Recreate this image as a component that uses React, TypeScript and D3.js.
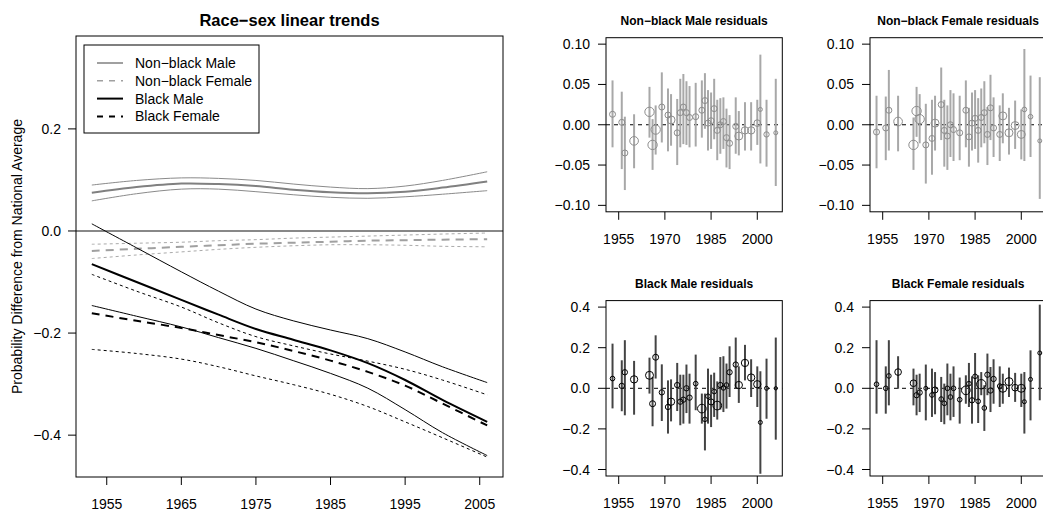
import React from "react";
import * as d3 from "d3";

// ---------- Main panel data (smoothed trends) ----------
const trendYears = [1953, 1959, 1965, 1970, 1975, 1980, 1985, 1990, 1995, 2000, 2006];

const nbMaleMean = [0.075, 0.086, 0.093, 0.092, 0.088, 0.081, 0.076, 0.074, 0.077, 0.085, 0.097];
const nbMaleHi = [0.090, 0.099, 0.104, 0.103, 0.099, 0.092, 0.086, 0.083, 0.088, 0.099, 0.116];
const nbMaleLo = [0.059, 0.073, 0.082, 0.082, 0.077, 0.071, 0.066, 0.064, 0.067, 0.072, 0.079];

const nbFemaleMean = [-0.039, -0.035, -0.031, -0.028, -0.025, -0.023, -0.021, -0.019, -0.018, -0.017, -0.016];
const nbFemaleHi = [-0.026, -0.024, -0.022, -0.019, -0.017, -0.014, -0.012, -0.010, -0.008, -0.006, -0.004];
const nbFemaleLo = [-0.054, -0.047, -0.041, -0.036, -0.032, -0.029, -0.027, -0.027, -0.028, -0.030, -0.031];

const bMaleMean = [-0.065, -0.100, -0.135, -0.164, -0.192, -0.213, -0.234, -0.259, -0.292, -0.331, -0.374];
const bMaleHi = [0.014, -0.033, -0.080, -0.118, -0.153, -0.176, -0.194, -0.211, -0.237, -0.266, -0.297];
const bMaleLo = [-0.146, -0.167, -0.188, -0.209, -0.230, -0.254, -0.279, -0.308, -0.350, -0.395, -0.440];

const bFemaleMean = [-0.161, -0.176, -0.190, -0.204, -0.218, -0.235, -0.254, -0.276, -0.303, -0.338, -0.381];
const bFemaleHi = [-0.085, -0.118, -0.149, -0.180, -0.207, -0.225, -0.241, -0.255, -0.271, -0.292, -0.321];
const bFemaleLo = [-0.232, -0.240, -0.251, -0.266, -0.284, -0.301, -0.320, -0.344, -0.374, -0.405, -0.443];

const mainXTicks = [1955, 1965, 1975, 1985, 1995, 2005];
const mainYTicks = [0.2, 0.0, -0.2, -0.4];
const legendLabels = ["Non\u2212black Male", "Non\u2212black Female", "Black Male", "Black Female"];

// ---------- Residual panels data ----------
const resYears = [1953, 1956, 1957, 1960, 1965, 1966, 1967, 1969, 1971, 1972, 1974, 1975, 1976, 1977, 1978, 1980, 1982, 1983, 1984, 1985, 1986, 1987, 1988, 1989, 1990, 1991, 1993, 1994, 1996, 1998, 2000, 2001, 2003, 2006];

const nbmEst = [0.013, 0.003, -0.035, -0.020, 0.016, -0.025, -0.006, 0.022, 0.012, 0.006, -0.010, 0.015, 0.022, 0.015, 0.009, 0.010, 0.018, 0.030, 0.002, 0.005, 0.020, -0.007, 0.000, 0.004, -0.016, -0.023, -0.002, -0.014, -0.007, -0.007, 0.002, 0.019, -0.012, -0.010];
const nbmHi = [0.055, 0.041, 0.010, 0.013, 0.047, 0.007, 0.024, 0.065, 0.045, 0.038, 0.032, 0.057, 0.063, 0.054, 0.048, 0.052, 0.055, 0.064, 0.043, 0.040, 0.057, 0.031, 0.033, 0.034, 0.020, 0.012, 0.034, 0.017, 0.028, 0.028, 0.031, 0.087, 0.031, 0.057];
const nbmLo = [-0.028, -0.055, -0.081, -0.054, -0.016, -0.056, -0.037, -0.022, -0.033, -0.026, -0.050, -0.028, -0.024, -0.025, -0.028, -0.027, -0.016, -0.005, -0.032, -0.030, -0.018, -0.044, -0.036, -0.030, -0.053, -0.055, -0.036, -0.038, -0.032, -0.032, -0.025, -0.048, -0.052, -0.076];
const nbmWt = [9, 9, 9, 13, 14, 14, 14, 9, 9, 12, 9, 9, 9, 9, 9, 9, 9, 9, 9, 9, 9, 9, 9, 9, 9, 9, 9, 12, 11, 11, 10, 6, 8, 6];

const nbfEst = [-0.009, -0.004, 0.018, 0.004, -0.025, 0.017, 0.007, -0.025, -0.017, 0.002, 0.025, -0.007, -0.014, 0.000, -0.006, -0.010, 0.018, -0.015, 0.002, 0.008, -0.007, 0.009, 0.015, -0.012, 0.021, -0.004, -0.012, 0.011, -0.010, -0.001, -0.012, 0.019, 0.010, -0.020];
const nbfHi = [0.036, 0.035, 0.068, 0.036, 0.009, 0.047, 0.038, 0.026, 0.031, 0.036, 0.071, 0.031, 0.024, 0.043, 0.039, 0.036, 0.055, 0.021, 0.040, 0.043, 0.033, 0.045, 0.054, 0.022, 0.062, 0.034, 0.024, 0.039, 0.021, 0.030, 0.019, 0.094, 0.061, 0.059];
const nbfLo = [-0.054, -0.044, -0.032, -0.033, -0.056, -0.015, -0.023, -0.073, -0.062, -0.032, -0.019, -0.052, -0.056, -0.040, -0.045, -0.044, -0.028, -0.052, -0.032, -0.030, -0.047, -0.028, -0.023, -0.050, -0.019, -0.040, -0.045, -0.023, -0.037, -0.030, -0.043, -0.045, -0.040, -0.092];
const nbfWt = [9, 9, 9, 13, 14, 14, 14, 9, 9, 12, 9, 9, 9, 9, 9, 9, 9, 9, 9, 9, 9, 9, 9, 9, 9, 9, 9, 12, 12, 12, 12, 7, 7, 6];

const bmEst = [0.048, 0.012, 0.079, 0.044, 0.064, -0.076, 0.153, -0.020, -0.092, -0.066, 0.016, -0.066, -0.056, 0.000, -0.046, 0.023, -0.100, -0.153, -0.039, -0.067, -0.016, -0.085, 0.016, 0.002, 0.016, 0.079, 0.117, 0.016, 0.125, 0.053, 0.020, -0.168, 0.000, 0.000];
const bmHi = [0.220, 0.138, 0.237, 0.135, 0.151, 0.056, 0.261, 0.118, 0.039, 0.044, 0.125, 0.067, 0.067, 0.117, 0.072, 0.166, -0.026, -0.026, 0.097, 0.067, 0.077, 0.034, 0.154, 0.158, 0.122, 0.207, 0.250, 0.108, 0.214, 0.143, 0.108, 0.084, 0.146, 0.250];
const bmLo = [-0.099, -0.113, -0.133, -0.130, -0.026, -0.187, 0.048, -0.161, -0.223, -0.163, -0.112, -0.182, -0.174, -0.122, -0.174, -0.108, -0.174, -0.306, -0.174, -0.191, -0.141, -0.154, -0.105, -0.117, -0.100, -0.043, -0.002, -0.072, 0.039, -0.043, -0.092, -0.421, -0.150, -0.253];
const bmWt = [7, 8, 8, 11, 12, 9, 9, 8, 8, 11, 8, 8, 8, 8, 8, 7, 13, 7, 7, 9, 7, 13, 8, 7, 7, 8, 8, 11, 11, 11, 11, 6, 6, 5];

const bfEst = [0.020, 0.000, 0.061, 0.080, 0.025, -0.034, -0.021, 0.000, -0.033, -0.008, -0.053, -0.074, 0.000, -0.043, 0.000, -0.056, -0.010, 0.023, -0.059, 0.059, -0.064, 0.020, -0.097, 0.067, -0.011, 0.046, 0.011, 0.000, 0.033, 0.003, 0.000, -0.066, 0.044, 0.174];
const bfHi = [0.237, 0.108, 0.237, 0.158, 0.097, 0.067, 0.072, 0.117, 0.097, 0.080, 0.056, 0.023, 0.122, 0.072, 0.108, 0.053, 0.064, 0.125, 0.059, 0.174, 0.064, 0.080, 0.015, 0.171, 0.105, 0.143, 0.108, 0.072, 0.102, 0.076, 0.072, 0.080, 0.187, 0.412];
const bfLo = [-0.125, -0.125, -0.084, -0.002, -0.084, -0.133, -0.117, -0.158, -0.141, -0.128, -0.166, -0.177, -0.133, -0.158, -0.141, -0.174, -0.076, -0.092, -0.174, -0.059, -0.171, -0.034, -0.210, -0.034, -0.117, -0.076, -0.092, -0.076, -0.043, -0.067, -0.092, -0.223, -0.158, -0.059];
const bfWt = [7, 7, 7, 10, 10, 8, 8, 6, 7, 9, 7, 7, 7, 7, 7, 7, 13, 7, 8, 7, 7, 14, 7, 8, 8, 8, 7, 12, 12, 10, 12, 6, 6, 6];

const resXTicks = [1955, 1970, 1985, 2000];
const smallYTicks = [0.10, 0.05, 0.0, -0.05, -0.10];
const bigYTicks = [0.4, 0.2, 0.0, -0.2, -0.4];

const FONT = "'Liberation Sans', Arial, Helvetica, sans-serif";
const fmt = (v: number, d: number) => {
  const s = Math.abs(v).toFixed(d);
  return v < -1e-9 ? "\u2212" + s : s;
};

type ResProps = {
  title: string;
  left: number;
  top: number;
  width: number;
  height: number;
  ylim: number;
  yTicks: number[];
  dec: number;
  est: number[];
  hi: number[];
  lo: number[];
  wt: number[];
  barColor: string;
  ptColor: string;
};

function ResidualPanel(p: ResProps) {
  const x = d3.scaleLinear().domain([1950.88, 2008.12]).range([p.left, p.left + p.width]);
  const y = d3.scaleLinear().domain([-p.ylim * 1.08, p.ylim * 1.08]).range([p.top + p.height, p.top]);
  const r = d3.scaleLinear().domain([0, 3]).range([0, 1]);
  const bottom = p.top + p.height;
  return (
    <g>
      <text x={p.left + p.width / 2} y={p.top - 13} textAnchor="middle" fontWeight="bold" fontSize={12} fontFamily={FONT}>
        {p.title}
      </text>
      <line x1={p.left} x2={p.left + p.width} y1={y(0)} y2={y(0)} stroke="#000" strokeWidth={1} strokeDasharray="4,4" />
      {resYears.map((yr, i) => (
        <line key={"b" + i} x1={x(yr)} x2={x(yr)} y1={y(p.hi[i])} y2={y(p.lo[i])} stroke={p.barColor} strokeWidth={2} />
      ))}
      {resYears.map((yr, i) => (
        <circle key={"c" + i} cx={x(yr)} cy={y(p.est[i])} r={r(p.wt[i])} fill="none" stroke={p.ptColor} strokeWidth={1} />
      ))}
      <rect x={p.left} y={p.top} width={p.width} height={p.height} fill="none" stroke="#000" strokeWidth={1} />
      {resXTicks.map((t) => (
        <g key={"xt" + t}>
          <line x1={x(t)} x2={x(t)} y1={bottom} y2={bottom + 8} stroke="#000" />
          <text x={x(t)} y={bottom + 32} textAnchor="middle" fontSize={14} fontFamily={FONT}>{t}</text>
        </g>
      ))}
      {p.yTicks.map((t) => (
        <g key={"yt" + t}>
          <line x1={p.left - 8} x2={p.left} y1={y(t)} y2={y(t)} stroke="#000" />
          <text x={p.left - 16} y={y(t) + 5} textAnchor="end" fontSize={14} fontFamily={FONT}>{fmt(t, p.dec)}</text>
        </g>
      ))}
    </g>
  );
}

export default function App() {
  const L = 76, R = 503, T = 36, B = 477;
  const x = d3.scaleLinear().domain([1950.88, 2008.12]).range([L, R]);
  const y = d3.scaleLinear().domain([-0.482, 0.382]).range([B, T]);
  const line = d3
    .line<number>()
    .x((_, i) => x(trendYears[i]))
    .y((d) => y(d))
    .curve(d3.curveCatmullRom.alpha(0.5));

  const series = [
    { d: nbMaleHi, stroke: "#8a8a8a", w: 1, dash: undefined },
    { d: nbMaleLo, stroke: "#8a8a8a", w: 1, dash: undefined },
    { d: nbMaleMean, stroke: "#808080", w: 2, dash: undefined },
    { d: nbFemaleHi, stroke: "#aaaaaa", w: 1, dash: "3,3" },
    { d: nbFemaleLo, stroke: "#aaaaaa", w: 1, dash: "3,3" },
    { d: nbFemaleMean, stroke: "#a0a0a0", w: 2, dash: "8,6" },
    { d: bMaleHi, stroke: "#000", w: 1, dash: undefined },
    { d: bMaleLo, stroke: "#000", w: 1, dash: undefined },
    { d: bMaleMean, stroke: "#000", w: 2, dash: undefined },
    { d: bFemaleHi, stroke: "#000", w: 1, dash: "3,3" },
    { d: bFemaleLo, stroke: "#000", w: 1, dash: "3,3" },
    { d: bFemaleMean, stroke: "#000", w: 2, dash: "8,6" },
  ];
  const legendStyles = [
    { stroke: "#808080", w: 1.5, dash: undefined },
    { stroke: "#a0a0a0", w: 1.5, dash: "6,6" },
    { stroke: "#000", w: 2, dash: undefined },
    { stroke: "#000", w: 2, dash: "6,6" },
  ];

  return (
    <svg width={1043} height={514} style={{ position: "absolute", left: 0, top: 0, background: "#fff" }}>
      <rect x={0} y={0} width={1043} height={514} fill="#fff" />
      {/* Main panel */}
      <text x={(L + R) / 2} y={26} textAnchor="middle" fontWeight="bold" fontSize={16.5} fontFamily={FONT}>
        Race{"\u2212"}sex linear trends
      </text>
      <line x1={L} x2={R} y1={y(0)} y2={y(0)} stroke="#888" strokeWidth={2} />
      {series.map((s, i) => (
        <path key={i} d={line(s.d) || ""} fill="none" stroke={s.stroke} strokeWidth={s.w} strokeDasharray={s.dash} />
      ))}
      <rect x={L} y={T} width={R - L} height={B - T} fill="none" stroke="#000" strokeWidth={1} />
      {mainXTicks.map((t) => (
        <g key={"mx" + t}>
          <line x1={x(t)} x2={x(t)} y1={B} y2={B + 8} stroke="#000" />
          <text x={x(t)} y={B + 32} textAnchor="middle" fontSize={14} fontFamily={FONT}>{t}</text>
        </g>
      ))}
      {mainYTicks.map((t) => (
        <g key={"my" + t}>
          <line x1={L - 8} x2={L} y1={y(t)} y2={y(t)} stroke="#000" />
          <text x={L - 15} y={y(t) + 5} textAnchor="end" fontSize={14} fontFamily={FONT}>{fmt(t, 1)}</text>
        </g>
      ))}
      <text transform={`translate(22,${(T + B) / 2}) rotate(-90)`} textAnchor="middle" fontSize={14} fontFamily={FONT}>
        Probability Difference from National Average
      </text>
      {/* Legend */}
      <rect x={84} y={45} width={175} height={88} fill="#fff" stroke="#000" strokeWidth={1} />
      {legendLabels.map((lab, i) => {
        const ly = 63 + i * 17.8;
        const st = legendStyles[i];
        return (
          <g key={lab}>
            <line x1={97} x2={123} y1={ly} y2={ly} stroke={st.stroke} strokeWidth={st.w} strokeDasharray={st.dash} />
            <text x={135} y={ly + 5} fontSize={14} fontFamily={FONT}>{lab}</text>
          </g>
        );
      })}

      <ResidualPanel title={"Non\u2212black Male residuals"} left={606} top={37.7} width={176.3} height={174.1} ylim={0.1} yTicks={smallYTicks} dec={2}
        est={nbmEst} hi={nbmHi} lo={nbmLo} wt={nbmWt} barColor="#a8a8a8" ptColor="#8c8c8c" />
      <ResidualPanel title={"Non\u2212black Female residuals"} left={870} top={37.7} width={176.3} height={174.1} ylim={0.1} yTicks={smallYTicks} dec={2}
        est={nbfEst} hi={nbfHi} lo={nbfLo} wt={nbfWt} barColor="#a8a8a8" ptColor="#8c8c8c" />
      <ResidualPanel title="Black Male residuals" left={606} top={300.6} width={176.3} height={175.4} ylim={0.4} yTicks={bigYTicks} dec={1}
        est={bmEst} hi={bmHi} lo={bmLo} wt={bmWt} barColor="#444" ptColor="#000" />
      <ResidualPanel title="Black Female residuals" left={870} top={300.6} width={176.3} height={175.4} ylim={0.4} yTicks={bigYTicks} dec={1}
        est={bfEst} hi={bfHi} lo={bfLo} wt={bfWt} barColor="#444" ptColor="#000" />
    </svg>
  );
}
